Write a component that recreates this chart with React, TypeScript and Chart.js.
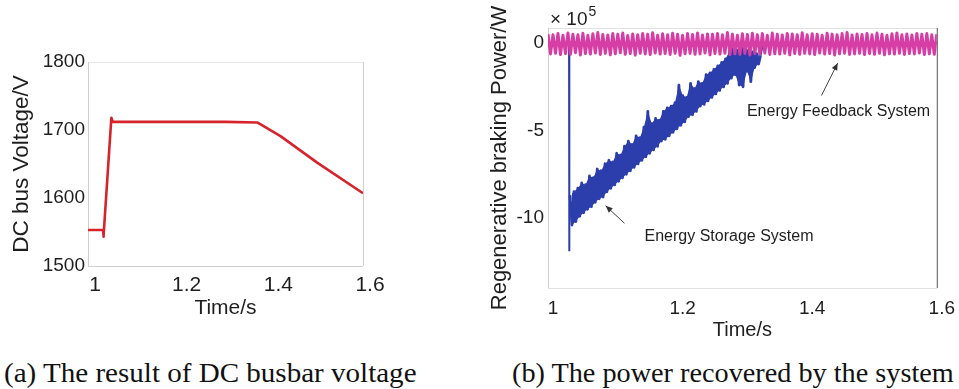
import React, { useEffect, useRef } from "react";
import { Chart, registerables } from "chart.js";

Chart.register(...registerables);

// ---------- (a) DC bus voltage ----------
const voltTime = [1.0, 1.033, 1.0335, 1.0345, 1.051, 1.054, 1.1, 1.2, 1.3, 1.37, 1.385, 1.42, 1.5, 1.6];
const voltValue = [1553, 1553, 1543, 1545, 1718, 1712, 1712, 1712, 1712, 1711, 1705, 1691, 1652, 1607];
const voltXTicks = [1, 1.2, 1.4, 1.6];
const voltXLabels = ["1", "1.2", "1.4", "1.6"];
const voltYTicks = [1500, 1600, 1700, 1800];
const voltYLabels = ["1500", "1600", "1700", "1800"];

// ---------- (b) regenerative braking power (x 10^5 W) ----------
const powerXTicks = [1, 1.2, 1.4, 1.6];
const powerXLabels = ["1", "1.2", "1.4", "1.6"];
const powerYTicks = [-10, -5, 0];
const powerYLabels = ["-10", "-5", "0"];

// Energy storage system: lead-in samples (drop at switch-on), then a dense band sampled every bandStep seconds
const storageLeadTime = [1.0, 1.0325, 1.0327, 1.0331, 1.034];
const storageLeadPower = [0, 0, -11.9, -9.6, -8.7];
const storageBandStart = 1.034;
const storageBandStep = 0.003;
const storageBandPower = [
  -8.7, -10.4, -8.5, -10.2, -8.3, -9.9, -8.0, -9.7, -8.1, -9.5,
  -7.6, -9.35, -7.7, -9.1, -7.2, -8.9, -7.3, -8.8, -6.9, -8.5,
  -6.7, -8.3, -6.8, -8.1, -6.3, -7.9, -6.4, -7.7, -5.9, -7.5,
  -5.6, -7.3, -5.8, -7.1, -5.3, -6.9, -5.4, -6.7, -4.8, -6.5,
  -3.9, -6.3, -4.6, -6.1, -4.3, -5.9, -4.4, -5.6, -3.9, -5.5,
  -3.7, -5.3, -3.6, -5.1, -3.4, -4.9, -2.4, -4.7, -3.0, -4.5,
  -3.1, -4.2, -2.3, -4.1, -2.6, -3.9, -2.2, -3.6, -2.3, -3.5,
  -1.8, -3.3, -1.7, -3.1, -1.5, -2.9, -1.3, -2.7, -1.1, -2.5,
  -0.9, -2.3, -0.5, -2.0, -0.3, -1.8, -0.4, -2.4, -0.2, -2.5,
  -0.3, -1.6, -0.4, -2.2, -0.5, -1.4, -0.6, -1.2, -0.7,
];
const storageTailTime = [1.328, 1.332, 1.6];
const storageTailPower = [-0.7, 0, 0];

// Energy feedback system: oscillation sampled uniformly from 1.0 s to 1.6 s
const feedbackStart = 1.0;
const feedbackEnd = 1.6;
const feedbackPower = [
  0.52, -0.62, 0.48, -0.58, 0.55, -0.66, 0.45, -0.6, 0.58, -0.64,
  0.5, -0.55, 0.47, -0.68, 0.56, -0.6, 0.44, -0.63, 0.53, -0.57,
  0.6, -0.65, 0.49, -0.59, 0.46, -0.67, 0.54, -0.61, 0.5, -0.56,
  0.57, -0.64, 0.43, -0.6, 0.52, -0.69, 0.48, -0.58, 0.55, -0.62,
  0.5, -0.66, 0.59, -0.57, 0.45, -0.63, 0.53, -0.6, 0.47, -0.65,
  0.56, -0.58, 0.5, -0.7, 0.44, -0.61, 0.54, -0.59, 0.49, -0.64,
  0.58, -0.62, 0.46, -0.57, 0.52, -0.67, 0.5, -0.6, 0.55, -0.63,
  0.47, -0.58, 0.6, -0.66, 0.51, -0.61, 0.45, -0.64, 0.53, -0.59,
  0.49, -0.68, 0.56, -0.6, 0.48, -0.62, 0.54, -0.57, 0.44, -0.65,
  0.57, -0.61, 0.5, -0.63, 0.46, -0.58, 0.55, -0.67, 0.52, -0.6,
  0.48, -0.64, 0.59, -0.59, 0.47, -0.62, 0.53, -0.66, 0.5, -0.57,
  0.45, -0.63, 0.56, -0.6, 0.51, -0.68, 0.48, -0.61, 0.54, -0.58,
  0.6, -0.65, 0.46, -0.62, 0.52, -0.59, 0.49, -0.66, 0.55, -0.6,
  0.47, -0.64, 0.57, -0.58, 0.5, -0.67, 0.44, -0.61, 0.53, -0.63,
  0.58, -0.59, 0.48, -0.65, 0.52, -0.6, 0.46, -0.62, 0.55, -0.57,
  0.5, -0.66, 0.54, -0.61, 0.47, -0.64, 0.51,
];

// annotations (data coordinates)
const feedbackLabel = { text: "Energy Feedback System", x: 1.307, y: -3.9 };
const feedbackArrow = { fromX: 1.422, fromY: -3.0, toX: 1.447, toY: -1.15 };
const storageLabel = { text: "Energy Storage System", x: 1.149, y: -11.05 };
const storageArrow = { fromX: 1.118, fromY: -10.3, toX: 1.089, toY: -9.3 };

const captionA = "(a) The result of DC busbar voltage";
const captionB = "(b) The power recovered by the system";

const SANS = "'Liberation Sans', Arial, sans-serif";
const SERIF = "'Liberation Serif', 'Times New Roman', serif";
const TEXT = "#1e1e1e";
const RED = "rgb(214,36,44)";
const BLUE = "rgb(44,62,172)";
const PINK = "rgb(214,62,166)";

function labelOf(ticks: number[], labels: string[]) {
  return (v: any) => {
    const i = ticks.findIndex((t) => Math.abs(t - Number(v)) < 1e-9);
    return i >= 0 ? labels[i] : "";
  };
}

function framePlugin(colors: { left: string; top: string; right: string; bottom: string }) {
  return {
    id: "frame",
    beforeDatasetsDraw(chart: any) {
      const { left, top, right, bottom } = chart.chartArea;
      const ctx = chart.ctx;
      ctx.save();
      ctx.lineWidth = 1;
      const seg = (c: string, x1: number, y1: number, x2: number, y2: number) => {
        ctx.strokeStyle = c;
        ctx.beginPath();
        ctx.moveTo(x1, y1);
        ctx.lineTo(x2, y2);
        ctx.stroke();
      };
      seg(colors.top, left, top + 0.5, right, top + 0.5);
      seg(colors.bottom, left, bottom + 0.5, right, bottom + 0.5);
      seg(colors.left, left + 0.5, top, left + 0.5, bottom);
      seg(colors.right, right + 0.5, top, right + 0.5, bottom);
      ctx.restore();
    },
  };
}

function VoltageChart() {
  const ref = useRef<HTMLCanvasElement>(null);
  useEffect(() => {
    const chart = new Chart(ref.current as HTMLCanvasElement, {
      type: "line",
      data: {
        datasets: [
          {
            data: voltTime.map((t, i) => ({ x: t, y: voltValue[i] })),
            borderColor: RED,
            borderWidth: 2.6,
            borderJoinStyle: "round",
            pointRadius: 0,
            tension: 0,
          },
        ],
      },
      options: {
        animation: false,
        responsive: false,
        events: [],
        layout: { padding: { top: 62, right: 37, left: 0, bottom: 0 } },
        plugins: { legend: { display: false }, tooltip: { enabled: false } },
        scales: {
          x: {
            type: "linear",
            min: 1,
            max: 1.6,
            afterBuildTicks: (s: any) => {
              s.ticks = voltXTicks.map((v) => ({ value: v }));
            },
            afterFit: (s: any) => {
              s.height = 74;
            },
            grid: { display: false, drawTicks: false },
            border: { display: false },
            ticks: {
              callback: labelOf(voltXTicks, voltXLabels),
              font: { family: SANS, size: 21 },
              color: TEXT,
              padding: 7,
              labelOffset: 7,
              maxRotation: 0,
              autoSkip: false,
            },
            title: {
              display: true,
              text: "Time/s",
              font: { family: SANS, size: 21 },
              color: TEXT,
              padding: { top: 0, bottom: 19 },
            },
          },
          y: {
            type: "linear",
            min: 1500,
            max: 1800,
            afterBuildTicks: (s: any) => {
              s.ticks = voltYTicks.map((v) => ({ value: v }));
            },
            afterFit: (s: any) => {
              s.width = 88;
            },
            grid: { display: false, drawTicks: false },
            border: { display: false },
            ticks: {
              callback: labelOf(voltYTicks, voltYLabels),
              font: { family: SANS, size: 19 },
              color: TEXT,
              padding: 3,
              autoSkip: false,
            },
            title: {
              display: true,
              text: "DC bus Voltage/V",
              font: { family: SANS, size: 22.5 },
              color: TEXT,
              padding: { top: 8, bottom: 0 },
            },
          },
        },
      } as any,
      plugins: [framePlugin({ left: "#cfcfcf", top: "#e6e6e6", right: "#cfcfcf", bottom: "#cfcfcf" })],
    });
    return () => chart.destroy();
  }, []);
  return (
    <canvas
      ref={ref}
      width={400}
      height={340}
      style={{ position: "absolute", left: 0, top: 0, width: 400, height: 340 }}
    />
  );
}

function drawArrow(ctx: any, x1: number, y1: number, x2: number, y2: number) {
  ctx.beginPath();
  ctx.moveTo(x1, y1);
  ctx.lineTo(x2, y2);
  ctx.stroke();
  const a = Math.atan2(y2 - y1, x2 - x1);
  const len = 7;
  const w = 3;
  ctx.beginPath();
  ctx.moveTo(x2, y2);
  ctx.lineTo(x2 - len * Math.cos(a) + w * Math.sin(a), y2 - len * Math.sin(a) - w * Math.cos(a));
  ctx.lineTo(x2 - len * Math.cos(a) - w * Math.sin(a), y2 - len * Math.sin(a) + w * Math.cos(a));
  ctx.closePath();
  ctx.fill();
}

const powerAnnotations = {
  id: "powerAnnotations",
  afterDatasetsDraw(chart: any) {
    const ctx = chart.ctx;
    const xs = chart.scales.x;
    const ys = chart.scales.y;
    ctx.save();
    ctx.fillStyle = TEXT;
    ctx.strokeStyle = "#444";
    ctx.lineWidth = 1;
    ctx.font = `16px ${SANS}`;
    ctx.textBaseline = "middle";
    ctx.textAlign = "left";
    ctx.fillText(feedbackLabel.text, xs.getPixelForValue(feedbackLabel.x), ys.getPixelForValue(feedbackLabel.y));
    ctx.fillText(storageLabel.text, xs.getPixelForValue(storageLabel.x), ys.getPixelForValue(storageLabel.y));
    ctx.fillStyle = "#333";
    drawArrow(
      ctx,
      xs.getPixelForValue(feedbackArrow.fromX),
      ys.getPixelForValue(feedbackArrow.fromY),
      xs.getPixelForValue(feedbackArrow.toX),
      ys.getPixelForValue(feedbackArrow.toY)
    );
    drawArrow(
      ctx,
      xs.getPixelForValue(storageArrow.fromX),
      ys.getPixelForValue(storageArrow.fromY),
      xs.getPixelForValue(storageArrow.toX),
      ys.getPixelForValue(storageArrow.toY)
    );
    // exponent label
    const { left, top } = chart.chartArea;
    ctx.fillStyle = TEXT;
    ctx.font = `19px ${SANS}`;
    ctx.textBaseline = "middle";
    const base = "\u00d7 10";
    ctx.fillText(base, left + 2, top - 8);
    const w = ctx.measureText(base).width;
    ctx.font = `14px ${SANS}`;
    ctx.fillText("5", left + 2 + w + 1, top - 16);
    ctx.restore();
  },
};

function PowerChart() {
  const ref = useRef<HTMLCanvasElement>(null);
  useEffect(() => {
    const leadData = storageLeadTime.map((t, i) => ({ x: t, y: storageLeadPower[i] }));
    const bandData = storageBandPower.map((p, i) => ({ x: storageBandStart + i * storageBandStep, y: p }));
    const bandUpper = bandData.filter((_, i) => i % 2 === 0);
    const bandLower = bandData.filter((_, i) => i % 2 === 1);
    const tailData = storageTailTime.map((t, i) => ({ x: t, y: storageTailPower[i] }));
    const n = feedbackPower.length;
    const feedbackData = feedbackPower.map((p, i) => ({
      x: feedbackStart + ((feedbackEnd - feedbackStart) * i) / (n - 1),
      y: p,
    }));
    const chart = new Chart(ref.current as HTMLCanvasElement, {
      type: "line",
      data: {
        datasets: [
          {
            label: "Energy Feedback System",
            data: feedbackData,
            borderColor: PINK,
            borderWidth: 3,
            borderJoinStyle: "round",
            pointRadius: 0,
            tension: 0,
            order: 0,
          },
          {
            label: "Energy Storage System",
            data: bandData,
            borderColor: BLUE,
            borderWidth: 2.8,
            borderJoinStyle: "round",
            pointRadius: 0,
            tension: 0,
            order: 1,
          },
          {
            label: "Energy Storage System (switching)",
            data: leadData,
            borderColor: BLUE,
            borderWidth: 2,
            pointRadius: 0,
            tension: 0,
            order: 1,
          },
          {
            label: "Energy Storage System (end)",
            data: tailData,
            borderColor: BLUE,
            borderWidth: 2,
            pointRadius: 0,
            tension: 0,
            order: 1,
          },
          {
            label: "band upper envelope",
            data: bandUpper,
            borderWidth: 0,
            borderColor: "rgba(0,0,0,0)",
            backgroundColor: BLUE,
            fill: { target: 5 },
            pointRadius: 0,
            tension: 0,
            order: 2,
          },
          {
            label: "band lower envelope",
            data: bandLower,
            borderWidth: 0,
            borderColor: "rgba(0,0,0,0)",
            pointRadius: 0,
            tension: 0,
            fill: false,
            order: 2,
          },
        ],
      },
      options: {
        animation: false,
        responsive: false,
        events: [],
        layout: { padding: { top: 28, right: 20, left: 0, bottom: 0 } },
        plugins: {
          legend: { display: false },
          tooltip: { enabled: false },
          filler: { propagate: false },
        },
        scales: {
          x: {
            type: "linear",
            min: 1,
            max: 1.6,
            afterBuildTicks: (s: any) => {
              s.ticks = powerXTicks.map((v) => ({ value: v }));
            },
            afterFit: (s: any) => {
              s.height = 57;
            },
            grid: { display: false, drawTicks: false },
            border: { display: false },
            ticks: {
              callback: labelOf(powerXTicks, powerXLabels),
              font: { family: SANS, size: 19 },
              color: TEXT,
              padding: 9,
              labelOffset: 5,
              maxRotation: 0,
              autoSkip: false,
            },
            title: {
              display: true,
              text: "Time/s",
              font: { family: SANS, size: 20 },
              color: TEXT,
              padding: { top: 0, bottom: 3 },
            },
          },
          y: {
            type: "linear",
            min: -14,
            max: 0.86,
            afterBuildTicks: (s: any) => {
              s.ticks = powerYTicks.map((v) => ({ value: v }));
            },
            afterFit: (s: any) => {
              s.width = 68;
            },
            grid: { display: false, drawTicks: false },
            border: { display: false },
            ticks: {
              callback: labelOf(powerYTicks, powerYLabels),
              font: { family: SANS, size: 19 },
              color: TEXT,
              padding: 4,
              autoSkip: false,
            },
            title: {
              display: true,
              text: "Regenerative braking Power/W",
              font: { family: SANS, size: 22 },
              color: TEXT,
              padding: { top: 7, bottom: 0 },
            },
          },
        },
      } as any,
      plugins: [
        framePlugin({ left: "#d0d0d0", top: "#e2e2e2", right: "#555555", bottom: "#e2e2e2" }),
        powerAnnotations,
      ],
    });
    return () => chart.destroy();
  }, []);
  return (
    <canvas
      ref={ref}
      width={479}
      height={345}
      style={{ position: "absolute", left: 480, top: 0, width: 479, height: 345 }}
    />
  );
}

export default function App() {
  const captionStyle: React.CSSProperties = {
    position: "absolute",
    top: 358,
    fontFamily: SERIF,
    fontSize: 27,
    lineHeight: "30px",
    color: "#111",
    whiteSpace: "nowrap",
    transformOrigin: "left center",
  };
  return (
    <div style={{ position: "absolute", left: 0, top: 0, width: 959, height: 389, background: "#fff", overflow: "hidden" }}>
      <VoltageChart />
      <PowerChart />
      <div style={{ ...captionStyle, left: 4, transform: "scaleX(1.076)" }}>{captionA}</div>
      <div style={{ ...captionStyle, left: 512, transform: "scaleX(1.046)" }}>{captionB}</div>
    </div>
  );
}
